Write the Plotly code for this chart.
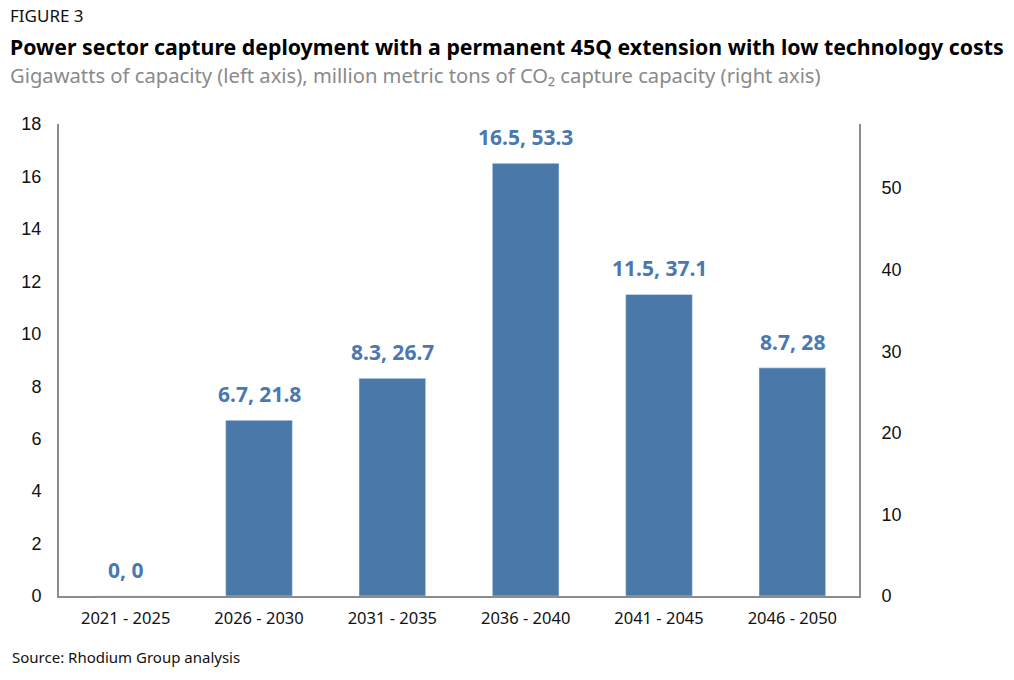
import plotly.graph_objects as go

categories = ["2021 - 2025", "2026 - 2030", "2031 - 2035", "2036 - 2040", "2041 - 2045", "2046 - 2050"]
gigawatts = [0, 6.7, 8.3, 16.5, 11.5, 8.7]
co2_mmt = [0, 21.8, 26.7, 53.3, 37.1, 28]
left_ticks = [0, 2, 4, 6, 8, 10, 12, 14, 16, 18]
right_ticks = [0, 10, 20, 30, 40, 50]

BAR = "#4A78A9"
LABEL = "#4A78B0"
AXIS = "#8C8C8C"
TICKFONT = "Liberation Sans"
TEXTFONT = "Noto Sans"

L, T, R, B = 59, 124, 1014 - 859, 680 - 596
PH = 472

def py(y_px):
    # paper y for an absolute pixel row in the window
    return (596 - y_px) / PH

fig = go.Figure()
fig.add_trace(go.Bar(x=categories, y=gigawatts, marker_color=BAR, width=0.5,
                     hoverinfo="skip", showlegend=False))
fig.add_trace(go.Scatter(x=categories, y=co2_mmt, yaxis="y2", mode="markers",
                         marker=dict(opacity=0), hoverinfo="skip", showlegend=False))

for c, g, m in zip(categories, gigawatts, co2_mmt):
    fig.add_annotation(x=c, y=g, xref="x", yref="y", text=f"<b>{g:g}, {m:g}</b>",
                       showarrow=False, yanchor="bottom", yshift=10,
                       font=dict(family=TEXTFONT, size=21, color=LABEL))

fig.update_layout(
    width=1014, height=680,
    margin=dict(l=L, r=R, t=T, b=B),
    paper_bgcolor="white", plot_bgcolor="white",
    xaxis=dict(showline=True, linecolor=AXIS, linewidth=2, showgrid=False,
               ticks="", tickfont=dict(family=TEXTFONT, size=16.5, color="#111"),
               ticklabelstandoff=6),
    yaxis=dict(range=[0, 18], tickvals=left_ticks, showgrid=False, zeroline=False,
               showline=True, linecolor=AXIS, linewidth=2, ticks="",
               tickfont=dict(family=TICKFONT, size=18, color="#111"),
               ticklabelstandoff=12),
    yaxis2=dict(range=[0, 57.84], tickvals=right_ticks, overlaying="y", side="right",
                showgrid=False, zeroline=False, showline=True, linecolor=AXIS, linewidth=2,
                ticks="", tickfont=dict(family=TICKFONT, size=18, color="#111"),
                ticklabelstandoff=17),
)

XS = -(L - 8)  # shift from plot-area left to x = 8

fig.add_annotation(text="FIGURE 3", xref="paper", yref="paper", x=0, y=py(16), xshift=XS,
                   xanchor="left", yanchor="middle", showarrow=False,
                   font=dict(family=TEXTFONT, size=17, color="#111"))
fig.add_annotation(text="<b>Power sector capture deployment with a permanent 45Q extension with low technology costs</b>",
                   xref="paper", yref="paper", x=0, y=py(46), xshift=XS,
                   xanchor="left", yanchor="middle", showarrow=False,
                   font=dict(family=TEXTFONT, size=21.3, color="#000"))
fig.add_annotation(text="Gigawatts of capacity (left axis), million metric tons of CO₂ capture capacity (right axis)",
                   xref="paper", yref="paper", x=0, y=py(75), xshift=XS,
                   xanchor="left", yanchor="middle", showarrow=False,
                   font=dict(family=TEXTFONT, size=20.2, color="#8A8A8A"))
fig.add_annotation(text="Source: Rhodium Group analysis", xref="paper", yref="paper",
                   x=0, y=py(657), xshift=XS + 2,
                   xanchor="left", yanchor="middle", showarrow=False,
                   font=dict(family=TEXTFONT, size=15, color="#111"))

fig.write_html("out.html", config={"displayModeBar": False},
               post_script="document.body.style.margin='0';")
